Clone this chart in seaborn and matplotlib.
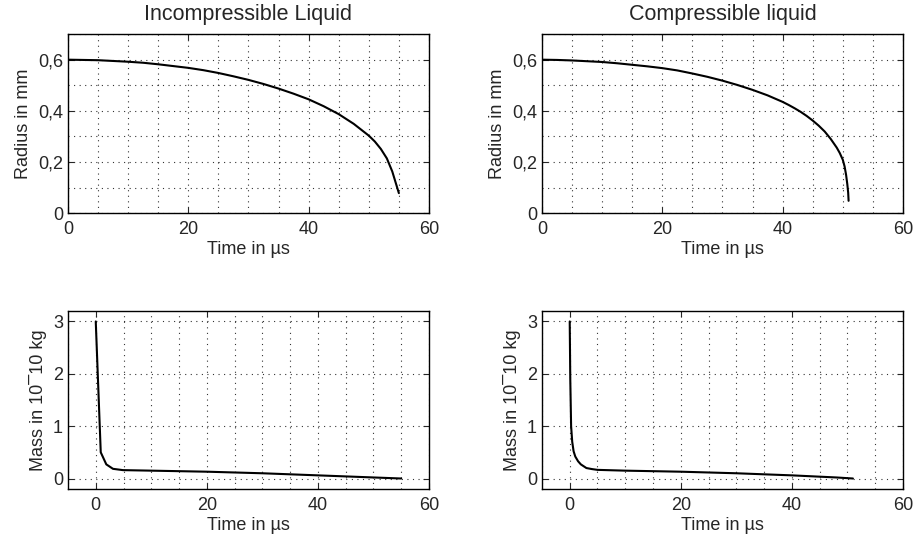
import numpy as np
import pandas as pd
import matplotlib
matplotlib.use("Agg")
import matplotlib.pyplot as plt
import seaborn as sns
from matplotlib.ticker import FuncFormatter, MultipleLocator

# data
t_rad_inc = [0, 2.5, 5, 7.5, 10, 12.5, 15, 17.5, 20, 22.5, 25, 27.5, 30, 32.5, 35, 37.5,
             40, 42.5, 45, 47.5, 50, 51, 52, 53, 53.9, 55]
r_inc = [0.600, 0.599, 0.598, 0.595, 0.592, 0.588, 0.582, 0.575, 0.568, 0.559, 0.548, 0.535,
         0.521, 0.505, 0.487, 0.467, 0.445, 0.418, 0.387, 0.349, 0.303, 0.280, 0.251, 0.214,
         0.163, 0.078]

t_rad_comp = [0, 2.5, 5, 7.5, 10, 12.5, 15, 17.5, 20, 22.5, 25, 27.5, 30, 32.5, 35, 37.5,
              40, 41, 42, 43, 44, 45, 46, 47, 48, 49, 49.5, 50, 50.3, 50.55, 50.75, 50.9, 50.97]
r_comp = [0.600, 0.599, 0.597, 0.594, 0.591, 0.586, 0.580, 0.574, 0.567, 0.558, 0.546, 0.533,
          0.518, 0.501, 0.482, 0.4605, 0.435, 0.423, 0.410, 0.396, 0.380, 0.362, 0.342, 0.319,
          0.290, 0.256, 0.235, 0.209, 0.183, 0.150, 0.114, 0.080, 0.048]

t_mass_inc = [0, 0.9, 1.9, 3.1, 4.9, 10, 20, 30, 40, 50, 55]
m_inc = [3.0, 0.5, 0.27, 0.185, 0.16, 0.15, 0.13, 0.10, 0.06, 0.02, 0.0]

t_mass_comp = [0, 0.1, 0.25, 0.45, 0.7, 1.0, 1.5, 2, 3, 4, 5, 10, 20, 30, 40, 48, 51]
m_comp = [3.0, 1.9, 1.0, 0.7, 0.52, 0.42, 0.33, 0.27, 0.2, 0.18, 0.165, 0.15, 0.13, 0.10, 0.06, 0.02, 0.0]

titles = ["Incompressible Liquid", "Compressible liquid"]

sns.set_style("ticks")
plt.rcParams["font.family"] = ["Liberation Sans", "DejaVu Sans"]
plt.rcParams["axes.unicode_minus"] = False

fig = plt.figure(figsize=(9.15, 5.45), dpi=100)
ax_tl = fig.add_axes([0.0743, 0.609, 0.3945, 0.3284])
ax_tr = fig.add_axes([0.5923, 0.609, 0.3945, 0.3284])
ax_bl = fig.add_axes([0.0743, 0.1028, 0.3945, 0.3266])
ax_br = fig.add_axes([0.5923, 0.1028, 0.3945, 0.3266])

comma = FuncFormatter(lambda v, p: f"{v:g}".replace(".", ","))

radius = [(ax_tl, t_rad_inc, r_inc), (ax_tr, t_rad_comp, r_comp)]
mass = [(ax_bl, t_mass_inc, m_inc), (ax_br, t_mass_comp, m_comp)]

for i, (ax, t, r) in enumerate(radius):
    df = pd.DataFrame({"t": t, "r": r})
    sns.lineplot(data=df, x="t", y="r", ax=ax, color="black", linewidth=1.5)
    ax.set_xlim(0, 60)
    ax.set_ylim(0, 0.7)
    ax.xaxis.set_major_locator(MultipleLocator(20))
    ax.xaxis.set_minor_locator(MultipleLocator(5))
    ax.yaxis.set_major_locator(MultipleLocator(0.2))
    ax.yaxis.set_minor_locator(MultipleLocator(0.1))
    ax.yaxis.set_major_formatter(comma)
    ax.set_ylabel("Radius in mm", fontsize=13)
    ax.set_title(titles[i], fontsize=15.5, pad=10)

for ax, t, m in mass:
    df = pd.DataFrame({"t": t, "m": m})
    sns.lineplot(data=df, x="t", y="m", ax=ax, color="black", linewidth=1.5)
    ax.set_xlim(-5, 60)
    ax.set_ylim(-0.2, 3.2)
    ax.xaxis.set_major_locator(MultipleLocator(20))
    ax.xaxis.set_minor_locator(MultipleLocator(5))
    ax.yaxis.set_major_locator(MultipleLocator(1))
    ax.set_ylabel("Mass in 10\u00af10 kg", fontsize=13)

for ax in [ax_tl, ax_tr, ax_bl, ax_br]:
    ax.set_xlabel("Time in \u00b5s", fontsize=13, labelpad=2)
    ax.grid(True, which="both", linestyle=(0, (1, 4)), color="black", linewidth=0.8, alpha=0.8)
    ax.tick_params(which="major", direction="in", length=4, labelsize=13, top=True, right=True)
    ax.tick_params(axis="x", which="major", pad=6)
    ax.tick_params(which="minor", direction="in", length=0, top=True, right=True)
    for s in ax.spines.values():
        s.set_visible(True)
        s.set_linewidth(1.0)
        s.set_color("black")

fig.savefig("out.png", dpi=100)
